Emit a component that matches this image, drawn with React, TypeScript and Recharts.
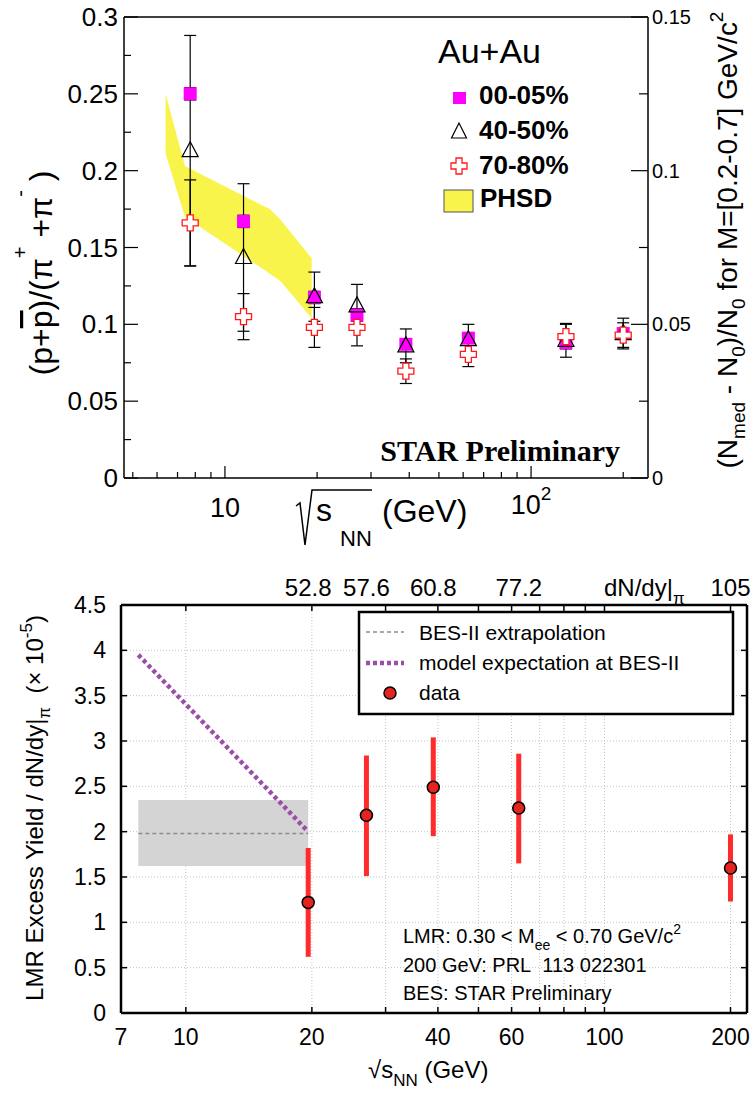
import React from "react";
import { ComposedChart, Scatter, Area, XAxis, YAxis, ErrorBar, CartesianGrid, ReferenceArea } from "recharts";

const SANS = "'Liberation Sans', Arial, Helvetica, sans-serif";
const SERIF = "'Liberation Serif', 'Times New Roman', serif";
const PHSD_COLOR = "#f8f44c";

// ---- top panel: (p+pbar)/(pi+ + pi-) vs sqrt(sNN)
const ENERGIES = [7.7, 11.5, 19.6, 27, 39, 62.4, 130, 200];
const CENT_0005 = [0.25, 0.167, 0.1175, 0.106, 0.087, 0.091, 0.088, 0.094];
const CENT_0005_ERR = [0.004, 0.004, 0.004, 0.004, 0.003, 0.003, 0.003, 0.003];
const CENT_4050 = [0.213, 0.1435, 0.118, 0.112, 0.086, 0.09, 0.0896, 0.094];
const CENT_4050_ERR = [0.075, 0.048, 0.016, 0.014, 0.011, 0.01, 0.011, 0.01];
const CENT_7080 = [0.166, 0.105, 0.098, 0.098, 0.0695, 0.0805, 0.092, 0.093];
const CENT_7080_ERR = [0.028, 0.015, 0.013, 0.012, 0.008, 0.008, 0.008, 0.008];

const PHSD_E = [6.4, 7.4, 14, 15.2, 19.2];
const PHSD_LOW = [0.211, 0.17, 0.133, 0.128, 0.104];
const PHSD_HIGH = [0.25, 0.203, 0.175, 0.168, 0.143];

const TOP_X_TICKS = [5, 6, 7, 8, 9, 10, 20, 30, 40, 50, 60, 70, 80, 90, 100, 200];
const TOP_X_MAJOR = [10, 100];
const TOP_Y_TICKS = [0, 0.025, 0.05, 0.075, 0.1, 0.125, 0.15, 0.175, 0.2, 0.225, 0.25, 0.275, 0.3];
const TOP_Y_LABELS = [0, 0.05, 0.1, 0.15, 0.2, 0.25, 0.3];
const RIGHT_Y_TICKS = [0, 0.025, 0.05, 0.075, 0.1, 0.125, 0.15];
const RIGHT_Y_LABELS = [0, 0.05, 0.1, 0.15];

// ---- bottom panel: LMR excess yield
const BES_E = [19.6, 27, 39, 62.4, 200];
const LMR_YIELD = [1.22, 2.18, 2.49, 2.26, 1.6];
const LMR_LOW = [0.62, 1.51, 1.95, 1.65, 1.23];
const LMR_HIGH = [1.82, 2.84, 3.04, 2.86, 1.97];
const DNDY = ["52.8", "57.6", "60.8", "77.2", "105"];

const MODEL_E = [7.7, 19.6];
const MODEL_Y = [3.95, 2.0];
const EXTRAP_E = [7.7, 19.6];
const EXTRAP_Y = [1.98, 1.98];
const EXTRAP_BAND = [1.62, 2.35];

const BOT_X_TICKS = [7, 10, 20, 30, 40, 50, 60, 70, 80, 90, 100, 200];
const BOT_X_LABELS = [7, 10, 20, 40, 60, 100, 200];
const BOT_TOP_MARKS = [10, 20, 30, 40, 50, 60, 70, 80, 90, 100, 200];
const BOT_Y_TICKS = [0, 0.5, 1, 1.5, 2, 2.5, 3, 3.5, 4, 4.5];

const has = (arr: number[], v: number) => arr.some((a) => Math.abs(a - v) < 1e-9);
const fmt = (v: number) => String(parseFloat(v.toFixed(3)));

const crossPath = (cx: number, cy: number, s: number, a: number) =>
  `M${cx - a},${cy - s}H${cx + a}V${cy - a}H${cx + s}V${cy + a}H${cx + a}V${cy + s}H${cx - a}V${cy + a}H${cx - s}V${cy - a}H${cx - a}Z`;

const SquareShape = (p: any) => <rect x={p.cx - 6.5} y={p.cy - 6.5} width={13} height={13} fill="#ff00ff" />;
const TriangleShape = (p: any) => (
  <polygon points={`${p.cx},${p.cy - 9} ${p.cx - 8},${p.cy + 6} ${p.cx + 8},${p.cy + 6}`} fill="none" stroke="#000" strokeWidth={1.2} />
);
const CrossShape = (p: any) => <path d={crossPath(p.cx, p.cy, 8, 3)} fill="#fff" stroke="#ff1a1a" strokeWidth={1.3} />;
const CircleShape = (p: any) => <circle cx={p.cx} cy={p.cy} r={6} fill="#e52420" stroke="#000" strokeWidth={1.5} />;
const NoShape = () => <g />;

// ---- custom ticks (drawn inward)
const TopLeftTick = (p: any) => {
  const v = p.payload.value;
  const major = has(TOP_Y_LABELS, v);
  return (
    <g>
      <line x1={p.x} y1={p.y} x2={p.x + (major ? 14 : 7)} y2={p.y} stroke="#000" strokeWidth={1.2} />
      {major && (
        <text x={p.x - 6} y={p.y + 9} textAnchor="end" fontSize={26} fontFamily={SANS} fill="#000">
          {fmt(v)}
        </text>
      )}
    </g>
  );
};

const TopRightTick = (p: any) => {
  const v = p.payload.value;
  const major = has(RIGHT_Y_LABELS, v);
  return (
    <g>
      <line x1={p.x} y1={p.y} x2={p.x - (major ? 17 : 9)} y2={p.y} stroke="#000" strokeWidth={1.2} />
      {major && (
        <text x={p.x + 4} y={p.y + 7} textAnchor="start" fontSize={20} fontFamily={SANS} fill="#000">
          {fmt(v)}
        </text>
      )}
    </g>
  );
};

const TopBottomTick = (p: any) => {
  const v = p.payload.value;
  const major = has(TOP_X_MAJOR, v);
  return (
    <g>
      <line x1={p.x} y1={p.y} x2={p.x} y2={p.y - (major ? 12 : 6)} stroke="#000" strokeWidth={1.2} />
      {v === 10 && (
        <text x={p.x} y={p.y + 39} textAnchor="middle" fontSize={27} fontFamily={SANS} fill="#000">
          10
        </text>
      )}
      {v === 100 && (
        <text x={p.x} y={p.y + 36} textAnchor="middle" fontSize={27} fontFamily={SANS} fill="#000">
          10
          <tspan dy={-14} fontSize={19}>2</tspan>
        </text>
      )}
    </g>
  );
};

const BotLeftTick = (p: any) => (
  <g>
    <line x1={p.x} y1={p.y} x2={p.x + 6} y2={p.y} stroke="#000" strokeWidth={1.5} />
    <text x={p.x - 15} y={p.y + 8} textAnchor="end" fontSize={23} fontFamily={SANS} fill="#000">
      {fmt(p.payload.value)}
    </text>
  </g>
);

const BotRightTick = (p: any) => <line x1={p.x} y1={p.y} x2={p.x - 6} y2={p.y} stroke="#000" strokeWidth={1.5} />;

const BotBottomTick = (p: any) => {
  const v = p.payload.value;
  return (
    <g>
      {v !== 7 && <line x1={p.x} y1={p.y} x2={p.x} y2={p.y - 6} stroke="#000" strokeWidth={1.5} />}
      {has(BOT_X_LABELS, v) && (
        <text x={p.x} y={p.y + 32} textAnchor="middle" fontSize={23} fontFamily={SANS} fill="#000">
          {v}
        </text>
      )}
    </g>
  );
};

const BotTopTick = (p: any) => {
  const v = p.payload.value;
  const idx = BES_E.findIndex((e) => Math.abs(e - v) < 1e-9);
  return (
    <g>
      {has(BOT_TOP_MARKS, v) && <line x1={p.x} y1={p.y} x2={p.x} y2={p.y + 6} stroke="#000" strokeWidth={1.5} />}
      {idx >= 0 && (
        <text x={p.x} y={p.y - 9} textAnchor="middle" fontSize={24} fontFamily={SANS} fill="#000">
          {DNDY[idx]}
        </text>
      )}
    </g>
  );
};

export default function App() {
  const phsd = PHSD_E.map((e, i) => ({ e, band: [PHSD_LOW[i], PHSD_HIGH[i]] }));
  const s0005 = ENERGIES.map((e, i) => ({ e, v: CENT_0005[i], err: CENT_0005_ERR[i] }));
  const s4050 = ENERGIES.map((e, i) => ({ e, v: CENT_4050[i], err: CENT_4050_ERR[i] }));
  const s7080 = ENERGIES.map((e, i) => ({ e, v: CENT_7080[i], err: CENT_7080_ERR[i] }));

  const lmr = BES_E.map((e, i) => ({
    e,
    v: LMR_YIELD[i],
    err: [LMR_YIELD[i] - LMR_LOW[i], LMR_HIGH[i] - LMR_YIELD[i]],
  }));
  const model = MODEL_E.map((e, i) => ({ e, v: MODEL_Y[i] }));
  const extrap = EXTRAP_E.map((e, i) => ({ e, v: EXTRAP_Y[i] }));
  const topAxisTicks = [...BOT_TOP_MARKS, ...BES_E.filter((e) => !has(BOT_TOP_MARKS, e))].sort((a, b) => a - b);

  const axisTop = { stroke: "#000", strokeWidth: 1.5 };
  const axisBot = { stroke: "#000", strokeWidth: 2.5 };

  return (
    <div style={{ position: "absolute", left: 0, top: 0, width: 755, height: 1095, background: "#fff" }}>
      <div style={{ position: "absolute", left: 0, top: 0 }}>
        <ComposedChart width={755} height={548} data={phsd} margin={{ top: 0, right: 0, bottom: 0, left: 0 }}>
          <XAxis
            dataKey="e"
            type="number"
            scale="log"
            domain={[4.68, 241]}
            allowDataOverflow
            ticks={TOP_X_TICKS}
            interval={0}
            height={70}
            tickSize={0}
            tickMargin={0}
            tickLine={false}
            axisLine={axisTop}
            tick={TopBottomTick}
          />
          <XAxis
            xAxisId="top"
            orientation="top"
            type="number"
            scale="log"
            domain={[4.68, 241]}
            allowDataOverflow
            height={17}
            tick={false}
            tickLine={false}
            axisLine={axisTop}
          />
          <YAxis
            dataKey="v"
            type="number"
            domain={[0, 0.3]}
            allowDataOverflow
            ticks={TOP_Y_TICKS}
            interval={0}
            width={124}
            tickSize={0}
            tickMargin={0}
            tickLine={false}
            axisLine={axisTop}
            tick={TopLeftTick}
          />
          <YAxis
            yAxisId="right"
            orientation="right"
            type="number"
            domain={[0, 0.15]}
            allowDataOverflow
            ticks={RIGHT_Y_TICKS}
            interval={0}
            width={107}
            tickSize={0}
            tickMargin={0}
            tickLine={false}
            axisLine={axisTop}
            tick={TopRightTick}
          />
          <Area
            dataKey="band"
            type="linear"
            fill={PHSD_COLOR}
            fillOpacity={1}
            stroke="none"
            isAnimationActive={false}
            dot={false}
            activeDot={false}
          />
          <Scatter data={s0005} shape={SquareShape} isAnimationActive={false}>
            <ErrorBar dataKey="err" direction="y" width={6} stroke="#000" strokeWidth={1.2} />
          </Scatter>
          <Scatter data={s4050} shape={TriangleShape} isAnimationActive={false}>
            <ErrorBar dataKey="err" direction="y" width={6} stroke="#000" strokeWidth={1.2} />
          </Scatter>
          <Scatter data={s7080} shape={CrossShape} isAnimationActive={false}>
            <ErrorBar dataKey="err" direction="y" width={6} stroke="#000" strokeWidth={1.2} />
          </Scatter>
        </ComposedChart>
      </div>

      <div style={{ position: "absolute", left: 0, top: 548 }}>
        <ComposedChart width={755} height={547} margin={{ top: 0, right: 0, bottom: 0, left: 0 }}>
          <CartesianGrid stroke="#c4c4c4" strokeDasharray="1 2" />
          <XAxis
            dataKey="e"
            type="number"
            scale="log"
            domain={[7, 219]}
            allowDataOverflow
            ticks={BOT_X_TICKS}
            interval={0}
            height={82}
            tickSize={0}
            tickMargin={0}
            tickLine={false}
            axisLine={axisBot}
            tick={BotBottomTick}
          />
          <XAxis
            xAxisId="top"
            dataKey="e"
            orientation="top"
            type="number"
            scale="log"
            domain={[7, 219]}
            allowDataOverflow
            ticks={topAxisTicks}
            interval={0}
            height={57}
            tickSize={0}
            tickMargin={0}
            tickLine={false}
            axisLine={axisBot}
            tick={BotTopTick}
          />
          <YAxis
            dataKey="v"
            type="number"
            domain={[0, 4.5]}
            allowDataOverflow
            ticks={BOT_Y_TICKS}
            interval={0}
            width={121}
            tickSize={0}
            tickMargin={0}
            tickLine={false}
            axisLine={axisBot}
            tick={BotLeftTick}
          />
          <YAxis
            yAxisId="right"
            dataKey="v"
            orientation="right"
            type="number"
            domain={[0, 4.5]}
            allowDataOverflow
            ticks={BOT_Y_TICKS}
            interval={0}
            width={8}
            tickSize={0}
            tickMargin={0}
            tickLine={false}
            axisLine={axisBot}
            tick={BotRightTick}
          />
          <ReferenceArea
            x1={EXTRAP_E[0]}
            x2={EXTRAP_E[1]}
            y1={EXTRAP_BAND[0]}
            y2={EXTRAP_BAND[1]}
            fill="#d4d4d4"
            fillOpacity={1}
            stroke="none"
          />
          <Scatter
            data={extrap}
            shape={NoShape}
            line={{ stroke: "#8c8c8c", strokeWidth: 1.5, strokeDasharray: "4 3" }}
            isAnimationActive={false}
          />
          <Scatter
            data={model}
            shape={NoShape}
            line={{ stroke: "#9b4ea8", strokeWidth: 4.5, strokeDasharray: "4 3" }}
            isAnimationActive={false}
          />
          <Scatter data={lmr} shape={CircleShape} isAnimationActive={false}>
            <ErrorBar dataKey="err" direction="y" width={0} stroke="#ff2b2b" strokeWidth={5} />
          </Scatter>
          {/* keeps the dN/dy axis (top) and the right axis bound to data */}
          <Scatter xAxisId="top" yAxisId="right" data={lmr} shape={NoShape} isAnimationActive={false} />
        </ComposedChart>
      </div>

      <svg
        width={755}
        height={1095}
        style={{ position: "absolute", left: 0, top: 0, pointerEvents: "none" }}
        fontFamily={SANS}
      >
        {/* top panel titles */}
        <text transform="translate(52,273) rotate(-90)" textAnchor="middle" fontSize={32}>
          (p+<tspan style={{ textDecoration: "overline" }}>p</tspan>)/(π
          <tspan dy={-25} fontSize={20}>+</tspan>
          <tspan dy={25}> +π</tspan>
          <tspan dy={-25} fontSize={20}>-</tspan>
          <tspan dy={25}> )</tspan>
        </text>
        <text transform="translate(737,240) rotate(-90)" textAnchor="middle" fontSize={28}>
          (N<tspan dy={8} fontSize={19}>med</tspan>
          <tspan dy={-8}> - N</tspan>
          <tspan dy={8} fontSize={19}>0</tspan>
          <tspan dy={-8}>)/N</tspan>
          <tspan dy={8} fontSize={19}>0</tspan>
          <tspan dy={-8}> for M=[0.2-0.7] GeV/c</tspan>
          <tspan dy={-14} fontSize={19}>2</tspan>
        </text>
        <path d="M296,506 L300,503 L305,545 L312,490 L372,490" fill="none" stroke="#000" strokeWidth={1.5} />
        <text x={316} y={521} fontSize={32}>s</text>
        <text x={340} y={546} fontSize={22}>NN</text>
        <text x={382} y={522} fontSize={32}>(GeV)</text>

        {/* top legend */}
        <text x={438} y={63} fontSize={34}>Au+Au</text>
        <rect x={453} y={92} width={13} height={12} fill="#ff00ff" />
        <text x={479} y={104} fontSize={26} fontWeight="bold">00-05%</text>
        <polygon points="459,123 451.5,138 466.5,138" fill="none" stroke="#000" strokeWidth={1.2} />
        <text x={479} y={139} fontSize={26} fontWeight="bold">40-50%</text>
        <path d={crossPath(459, 166, 8, 3)} fill="#fff" stroke="#ff1a1a" strokeWidth={1.3} />
        <text x={479} y={174} fontSize={26} fontWeight="bold">70-80%</text>
        <rect x={444} y={190} width={29} height={22} fill={PHSD_COLOR} stroke="#555" strokeWidth={1} />
        <text x={480} y={207} fontSize={26} fontWeight="bold">PHSD</text>
        <text x={620} y={461} fontSize={30} fontWeight="bold" fontFamily={SERIF} textAnchor="end">
          STAR Preliminary
        </text>

        {/* bottom panel titles */}
        <text transform="translate(43,808) rotate(-90)" textAnchor="middle" fontSize={24}>
          LMR Excess Yield / dN/dy|<tspan dy={7} fontSize={17}>π</tspan>
          <tspan dy={-7}>{"\u00a0\u00a0(× 10"}</tspan>
          <tspan dy={-11} fontSize={17}>-5</tspan>
          <tspan dy={11}>)</tspan>
        </text>
        <text x={368} y={1078} fontSize={24}>
          √s<tspan dy={8} fontSize={17}>NN</tspan>
          <tspan dy={-8}> (GeV)</tspan>
        </text>
        <text x={604} y={596} fontSize={24}>
          dN/dy|<tspan dy={8} fontSize={17}>π</tspan>
        </text>

        {/* bottom legend */}
        <rect x={359} y={612} width={374} height={102} fill="#fff" stroke="#000" strokeWidth={2.5} />
        <line x1={366} y1={632} x2={404} y2={632} stroke="#8c8c8c" strokeWidth={1.5} strokeDasharray="4 3" />
        <text x={419} y={640} fontSize={21}>BES-II extrapolation</text>
        <line x1={366} y1={663} x2={404} y2={663} stroke="#9b4ea8" strokeWidth={4.5} strokeDasharray="4 3" />
        <text x={419} y={670} fontSize={21}>model expectation at BES-II</text>
        <circle cx={390} cy={693} r={6} fill="#e52420" stroke="#000" strokeWidth={1.5} />
        <text x={419} y={700} fontSize={21}>data</text>

        {/* annotations */}
        <text x={403} y={943} fontSize={20}>
          LMR: 0.30 &lt; M<tspan dy={7} fontSize={14}>ee</tspan>
          <tspan dy={-7}> &lt; 0.70 GeV/c</tspan>
          <tspan dy={-9} fontSize={14}>2</tspan>
        </text>
        <text x={403} y={972} fontSize={20}>{"200 GeV: PRL\u00a0 113 022301"}</text>
        <text x={403} y={1000} fontSize={20}>BES: STAR Preliminary</text>
      </svg>
    </div>
  );
}
